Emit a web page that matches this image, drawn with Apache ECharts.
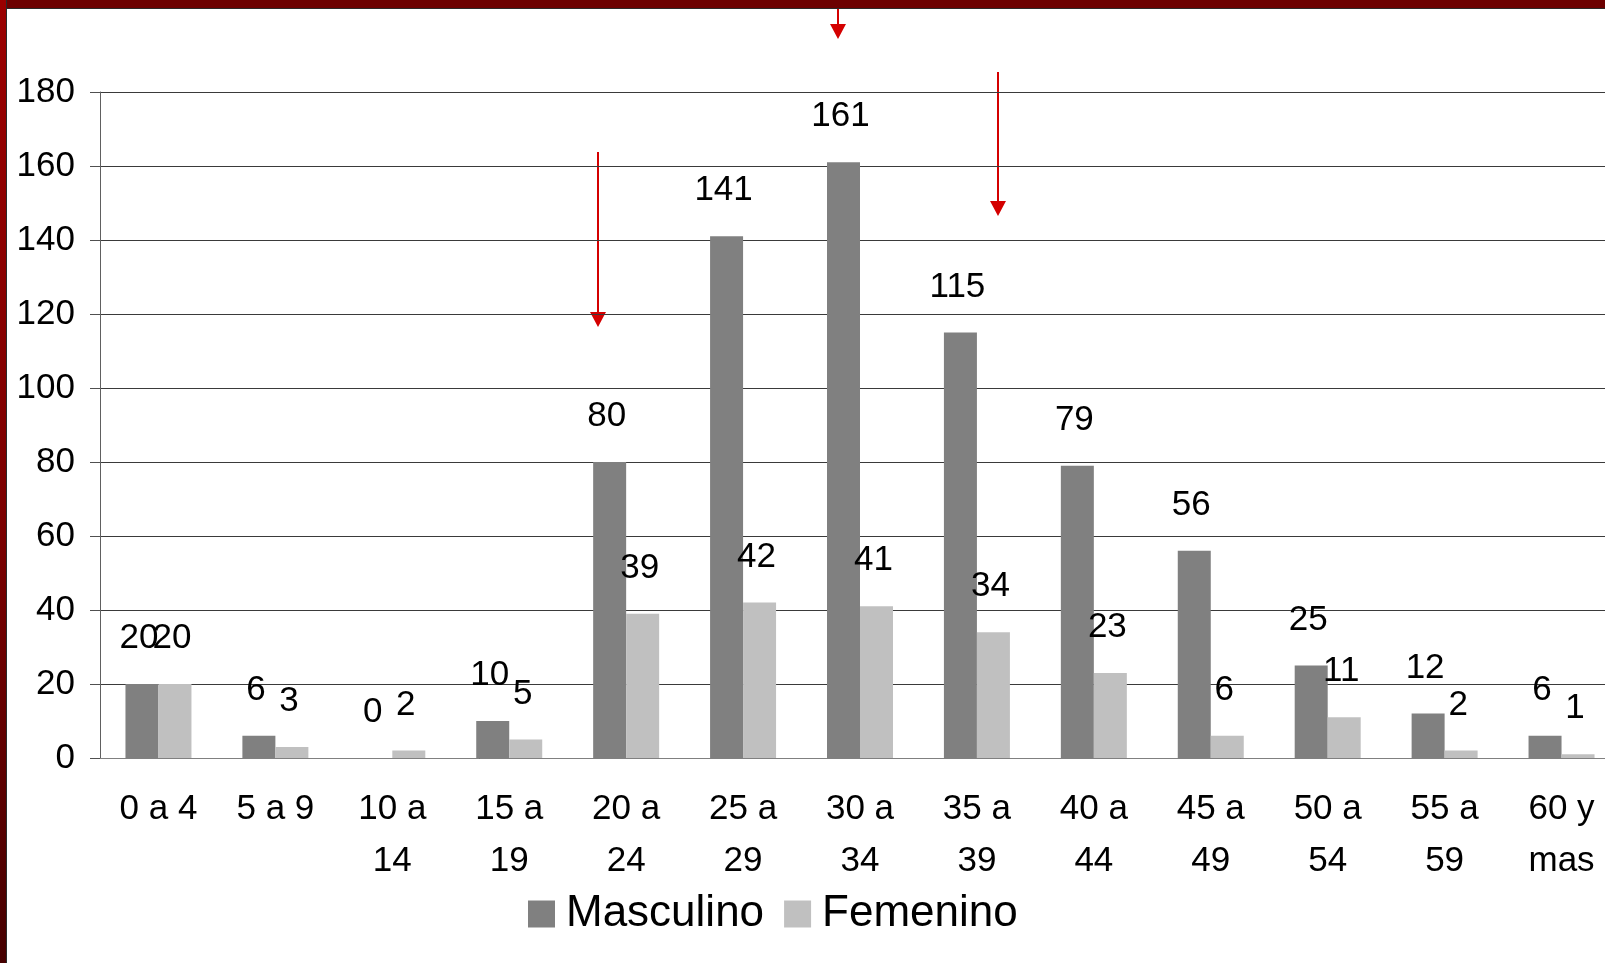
<!DOCTYPE html>
<html>
<head>
<meta charset="utf-8">
<title>Casos por grupo de edad y sexo</title>
<script src="https://cdn.jsdelivr.net/npm/echarts@6/dist/echarts.min.js"></script>
<style>
  html, body { margin: 0; padding: 0; background: #ffffff; overflow: hidden; }
  /* The plot runs past the right edge of the page, so the canvas is a bit wider than the view */
  #chart { position: absolute; left: 0; top: 0; width: 1625px; height: 963px; }
  .frame-top { position: absolute; left: 0; top: 0; width: 1625px; height: 8px;
    background: #6c0000; border-bottom: 1px solid #2a2a2a; z-index: 5; }
  .frame-left { position: absolute; left: 0; top: 0; width: 6px; height: 963px;
    background: linear-gradient(to bottom, #9a0000 0%, #7a0000 55%, #460000 100%);
    border-right: 1px solid #2a2a2a; z-index: 6; }
</style>
</head>
<body>
<div id="chart"></div>
<div class="frame-top"></div>
<div class="frame-left"></div>
<script>
// Age groups (two-line labels where they wrap under each pair of bars)
const categories = ['0 a 4', '5 a 9', '10 a\n14', '15 a\n19', '20 a\n24', '25 a\n29',
  '30 a\n34', '35 a\n39', '40 a\n44', '45 a\n49', '50 a\n54', '55 a\n59', '60 y\nmas'];

// Counts per sex
const masculino = [20, 6, 0, 10, 80, 141, 161, 115, 79, 56, 25, 12, 6];
const femenino  = [20, 3, 2, 5, 39, 42, 41, 34, 23, 6, 11, 2, 1];

// Value axis ticks
const yTicks = [0, 20, 40, 60, 80, 100, 120, 140, 160, 180];

const FONT = '"Liberation Sans", Arial, Helvetica, sans-serif';

const chart = echarts.init(document.getElementById('chart'), null, { renderer: 'canvas' });

// Red annotation arrow: vertical shaft with a triangular head
function arrow(x, y0, y1) {
  const headH = 15, headW = 8;
  return {
    type: 'group',
    z: 100,
    children: [
      { type: 'line', shape: { x1: x, y1: y0, x2: x, y2: y1 - headH + 1 },
        style: { stroke: '#d40000', lineWidth: 2 } },
      { type: 'polygon', shape: { points: [[x - headW, y1 - headH], [x + headW, y1 - headH], [x, y1]] },
        style: { fill: '#d40000' } }
    ]
  };
}

const labelStyle = {
  show: true,
  position: 'top',
  distance: 28,
  offset: [-3, 0],
  color: '#000000',
  fontFamily: FONT,
  fontSize: 35
};

chart.setOption({
  backgroundColor: '#ffffff',
  animation: false,
  grid: { left: 100, top: 92, width: 1520, height: 666, containLabel: false },
  legend: {
    left: 528,
    top: 892,
    padding: 0,
    itemWidth: 27,
    itemHeight: 27,
    itemGap: 20,
    icon: 'rect',
    textStyle: { fontFamily: FONT, fontSize: 44, color: '#000000', padding: [0, 0, 0, 6] },
    data: ['Masculino', 'Femenino']
  },
  xAxis: {
    type: 'category',
    data: categories,
    axisLine: { show: true, lineStyle: { color: '#808080', width: 1 } },
    axisTick: { show: false },
    axisLabel: {
      color: '#000000',
      fontFamily: FONT,
      fontSize: 35,
      lineHeight: 52,
      margin: 25,
      interval: 0
    }
  },
  yAxis: {
    type: 'value',
    min: yTicks[0],
    max: yTicks[yTicks.length - 1],
    interval: yTicks[1] - yTicks[0],
    axisLine: { show: true, lineStyle: { color: '#606060', width: 1 } },
    axisTick: { show: true, inside: false, length: 10, lineStyle: { color: '#505050' } },
    axisLabel: { color: '#000000', fontFamily: FONT, fontSize: 35, margin: 25 },
    splitLine: { show: true, lineStyle: { color: '#3a3a3a', width: 1 } }
  },
  series: [
    {
      name: 'Masculino',
      type: 'bar',
      data: masculino,
      barWidth: 33,
      barGap: '0%',
      itemStyle: { color: '#808080' },
      label: labelStyle
    },
    {
      name: 'Femenino',
      type: 'bar',
      data: femenino,
      barWidth: 33,
      barGap: '0%',
      itemStyle: { color: '#c0c0c0' },
      label: labelStyle
    }
  ],
  graphic: [
    arrow(838, 0, 39),
    arrow(998, 72, 216),
    arrow(598, 152, 327)
  ]
});
</script>
</body>
</html>
